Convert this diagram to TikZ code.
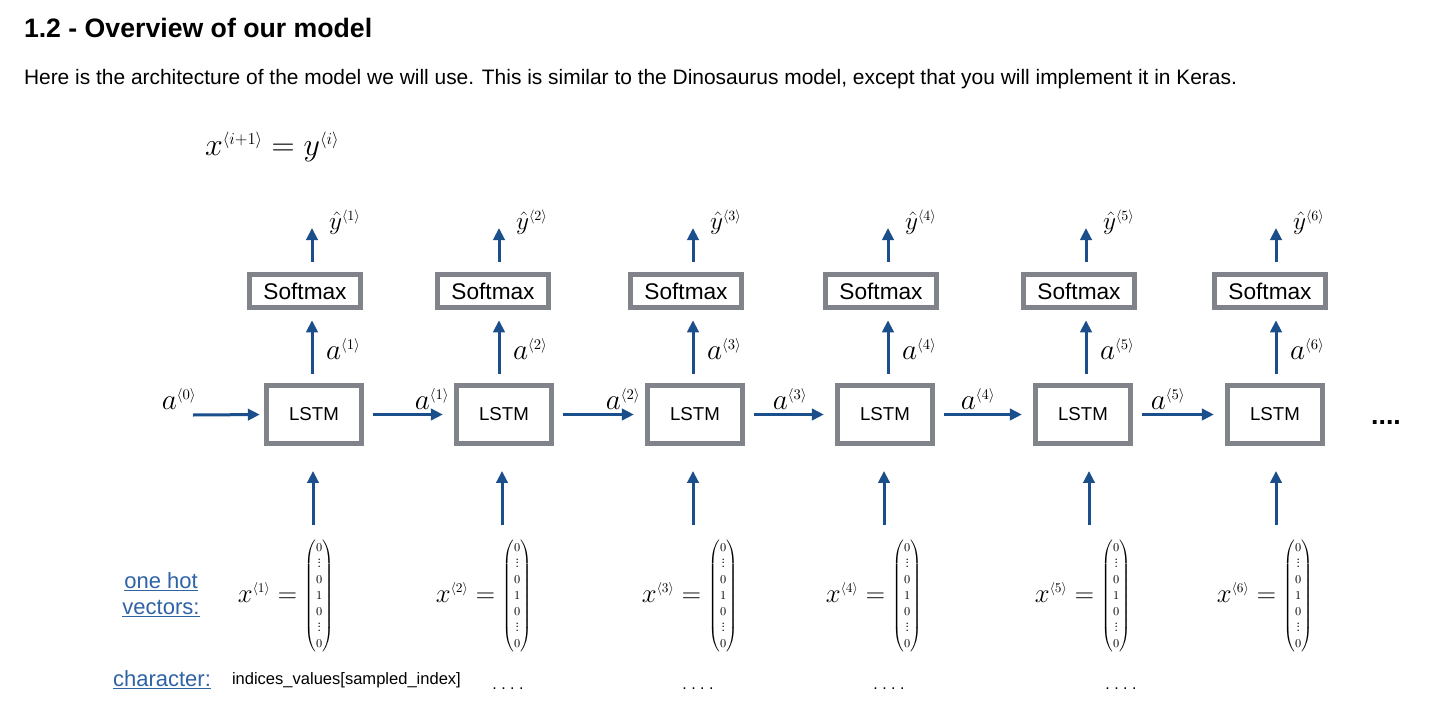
\RequirePackage{fix-cm}
\documentclass[tikz,border=0pt]{standalone}
\usepackage[no-math]{fontspec}
\setmainfont{Liberation Sans}
\usetikzlibrary{arrows.meta,calc}
\definecolor{arrblue}{HTML}{1A4F8B}
\definecolor{boxgray}{HTML}{808389}
\definecolor{linkblue}{HTML}{2F63A6}
\DeclareMathSizes{24}{24}{12.5}{9}
\DeclareMathSizes{22}{22}{11}{8}
\DeclareMathSizes{19}{19}{10.5}{7}
\DeclareMathSizes{20}{20}{10}{7}
\newcommand{\smalldots}{\vbox{\baselineskip2.6pt\lineskiplimit0pt\hbox{.}\hbox{.}\hbox{.}}}
\newcommand{\onehotvec}{\left(\vcenter{\hbox{\fontsize{9}{12}\selectfont$\begin{array}{@{}c@{}}0\\ \smalldots\\ 0\\ 1\\ 0\\ \smalldots\\ 0\end{array}$}}\right)}
\tikzset{
  every node/.style={inner sep=0pt, outer sep=0pt},
  arr/.style={draw=arrblue, line width=2.25pt, -{Triangle[length=9pt,width=8.5pt]}},
  smbox/.style={draw=boxgray, fill=white, line width=3.6pt, minimum width=83.6pt, minimum height=25.1pt, font=\fontsize{17}{20}\selectfont},
  lstmbox/.style={draw=boxgray, fill=white, line width=3.6pt, minimum width=71.5pt, minimum height=43.7pt, font=\fontsize{14}{17}\selectfont},
  alab/.style={font=\fontsize{22}{24}\selectfont},
  ylab/.style={font=\fontsize{19}{21}\selectfont},
  xlab/.style={font=\fontsize{20}{22}\selectfont},
  link/.style={text=linkblue, font=\fontsize{16.5}{19.5}\selectfont},
  dotlab/.style={font=\fontsize{12}{14}\selectfont}
}
\begin{document}
\begin{tikzpicture}[x=0.75pt,y=-0.75pt]
\useasboundingbox[fill=white] (0,0) rectangle (1429,714);
% header texts
\node[anchor=base west, font=\bfseries\fontsize{20}{24}\selectfont] (title) at (24,37) {1.2 - Overview of our model};
\node[anchor=base west, font=\fontsize{15.7}{18}\selectfont] (intro) at (24,84) {Here is the architecture of the model we will use. This is similar to the Dinosaurus model, except that you will implement it in Keras.};
\node[anchor=west, font=\fontsize{24}{28}\selectfont] (eq) at (205,147) {$x^{\langle i+1\rangle} = y^{\langle i\rangle}$};
% columns
\foreach \i/\sx/\lx/\cx/\bx/\vx in {1/305/314/312/313/334, 2/493/504/499/502/532, 3/686/695/693/693/738, 4/881/885/888/884/922, 5/1079/1083/1086/1089/1131, 6/1270/1275/1276/1276/1313}{
  \node[smbox] (s\i) at (\sx,291) {Softmax};
  \node[lstmbox] (l\i) at (\lx,414.5) {LSTM};
  \coordinate (c\i) at (\cx,0);
  \coordinate (t\i) at (\cx,228);
  \coordinate (b\i) at (\bx,525);
  \draw[arr, shorten <=8.6pt, shorten >=9.4pt] (c\i |- l\i.north) -- (c\i |- s\i.south);
  \draw[arr, shorten <=9.4pt] (c\i |- s\i.north) -- (t\i);
  \draw[arr, shorten >=20.5pt] (b\i) -- (b\i |- l\i.south);
  \node[ylab, anchor=west] (yh\i) at (\cx+17,222) {$\hat{y}^{\langle \i\rangle}$};
  \node[alab, anchor=west] (av\i) at (\cx+14,349) {$a^{\langle \i\rangle}$};
  \node[xlab, anchor=east] (v\i) at (\vx,596) {$x^{\langle \i\rangle} = \onehotvec$};
}
% recurrent arrows
\coordinate (a0s) at (193,415);
\draw[arr, shorten >=4.9pt] (a0s) -- (l1.west);
\foreach \i/\j in {1/2,2/3,3/4,4/5,5/6}{
  \draw[arr, shorten <=8.25pt, shorten >=10.1pt] (l\i.east) -- (l\j.west);
}
\foreach \k/\hx in {0/179,1/432,2/623,3/790,4/978,5/1168}{
  \node[alab] (ah\k) at (\hx,399) {$a^{\langle \k\rangle}$};
}
\node[font=\bfseries\fontsize{20}{24}\selectfont] (more) at (1386,423) {....};
% bottom labels
\node[link, align=center] (onehot) at (161,595) {\underline{one hot}\\\underline{vectors:}};
\node[link] (charlab) at (162,680) {\underline{character:}};
\node[anchor=west, font=\fontsize{12.4}{15}\selectfont] (idx) at (232,680) {indices\_values[sampled\_index]};
\foreach \k/\dx in {1/508,2/698,3/889,4/1121}{
  \node[dotlab] (dots\k) at (\dx,689) {.\ .\ .\ .};
}
\end{tikzpicture}
\end{document}
